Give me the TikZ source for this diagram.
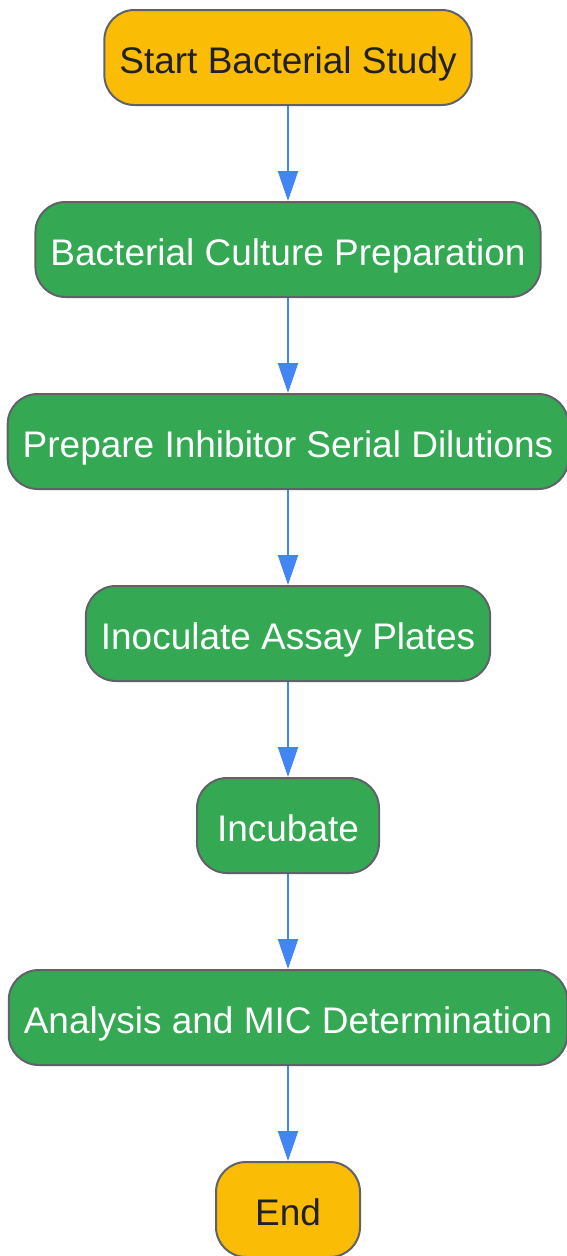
\documentclass[tikz,border=0pt]{standalone}
\usepackage{fontspec}
\setmainfont{Liberation Sans}
\usepackage{tikz}
\usetikzlibrary{shapes, arrows.meta, positioning}

\definecolor{startorange}{HTML}{FBBC05}
\definecolor{stepgreen}{HTML}{34A853}
\definecolor{edgegray}{HTML}{5F6368}
\definecolor{flowblue}{HTML}{4285F4}
\definecolor{darktext}{HTML}{202124}

\begin{document}
\begin{tikzpicture}[node distance=95pt]

% Define block styles
\tikzstyle{terminal} = [rectangle, rounded corners=30pt, minimum height=95pt, inner xsep=15pt, text height=33pt, text depth=2pt, text centered, draw=edgegray, line width=2pt, fill=startorange, text=darktext, font=\fontsize{37}{44}\selectfont]
\tikzstyle{process} = [rectangle, rounded corners=30pt, minimum height=95pt, inner xsep=15pt, text height=33pt, text depth=2pt, text centered, draw=edgegray, line width=2pt, fill=stepgreen, text=white, font=\fontsize{37}{44}\selectfont]
\tikzstyle{arrow} = [line width=2pt, draw=flowblue, -{Triangle[length=30pt, width=20pt]}]

\useasboundingbox (0,0) rectangle (566pt,-1256pt);

% Define nodes
\node (start) [terminal] at (288pt,-57.5pt) {Start Bacterial Study};
\node (culture) [process, below = of start] {Bacterial Culture Preparation};
\node (dilute) [process, below = of culture] {Prepare Inhibitor Serial Dilutions};
\node (inoculate) [process, below = of dilute] {Inoculate Assay Plates};
\node (incubate) [process, below = of inoculate, minimum width=182pt] {Incubate};
\node (analysis) [process, below = of incubate] {Analysis and MIC Determination};
\node (end) [terminal, below = of analysis, minimum width=144pt] {End};

% Draw arrows
\draw [arrow] (start.south) -- (culture.north);
\draw [arrow] (culture.south) -- (dilute.north);
\draw [arrow] (dilute.south) -- (inoculate.north);
\draw [arrow] (inoculate.south) -- (incubate.north);
\draw [arrow] (incubate.south) -- (analysis.north);
\draw [arrow] (analysis.south) -- (end.north);

\end{tikzpicture}
\end{document}
